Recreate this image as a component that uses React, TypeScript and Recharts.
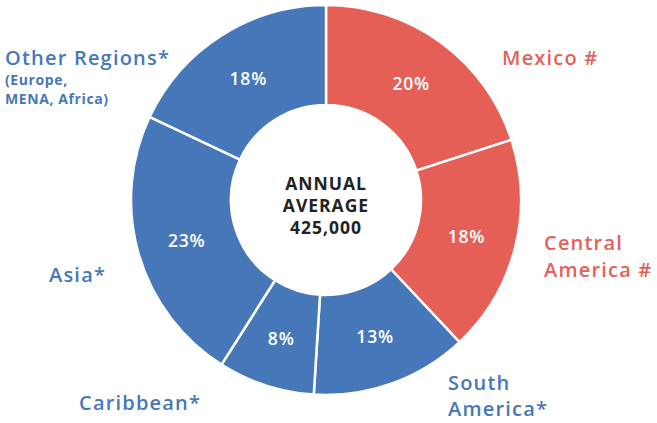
import { PieChart, Pie, Cell } from 'recharts'

const regions = ['Mexico #', 'Central America #', 'South America*', 'Caribbean*', 'Asia*', 'Other Regions*']
const shares = [20, 18, 13, 8, 23, 18]
const groups = ['red', 'red', 'blue', 'blue', 'blue', 'blue']

const RED = '#E65F57'
const BLUE = '#4677B8'
const FONT = '"Open Sans", sans-serif'

const data = regions.map((name, i) => ({ name, value: shares[i], group: groups[i] }))

const RAD = Math.PI / 180

const renderPct = ({ cx, cy, midAngle, innerRadius, outerRadius, value }: any) => {
  const r = (innerRadius + outerRadius) / 2
  const x = cx + r * Math.cos(-midAngle * RAD)
  const y = cy + r * Math.sin(-midAngle * RAD)
  return (
    <text x={x} y={y} fill="#fff" textAnchor="middle" dominantBaseline="central"
      style={{ fontFamily: FONT, fontSize: 17.5, fontWeight: 600, letterSpacing: 0.8 }}>
      {value}%
    </text>
  )
}

const lbl = (color: string, size = 20): React.CSSProperties => ({
  position: 'absolute', color, fontFamily: FONT, fontSize: size, fontWeight: 600, lineHeight: 1.3,
  letterSpacing: 1.2, whiteSpace: 'nowrap',
})

export default function App() {
  return (
    <div style={{ position: 'absolute', left: 0, top: 0, width: 657, height: 423, background: '#fff' }}>
      <PieChart width={657} height={423} margin={{ top: 0, right: 0, bottom: 0, left: 0 }}>
        <Pie data={data} dataKey="value" cx={326} cy={200} innerRadius={95} outerRadius={195}
          startAngle={90} endAngle={-270} stroke="#fff" strokeWidth={2.5}
          label={renderPct} labelLine={false} isAnimationActive={false}>
          {data.map(d => <Cell key={d.name} fill={d.group === 'red' ? RED : BLUE} />)}
        </Pie>
      </PieChart>

      <div style={{ position: 'absolute', left: 226, width: 200, top: 172, textAlign: 'center', fontFamily: FONT, fontWeight: 700, fontSize: 17.5, lineHeight: '22px', color: '#222', letterSpacing: 1 }}>
        ANNUAL<br />AVERAGE<br />425,000
      </div>

      <div style={{ ...lbl(RED), left: 502, top: 45 }}>Mexico #</div>
      <div style={{ ...lbl(RED), left: 544, top: 229, lineHeight: '27px' }}>Central<br />America #</div>
      <div style={{ ...lbl(BLUE), left: 448, top: 370, lineHeight: '26px' }}>South<br />America*</div>
      <div style={{ ...lbl(BLUE), left: 79, top: 390 }}>Caribbean*</div>
      <div style={{ ...lbl(BLUE), left: 49, top: 262 }}>Asia*</div>
      <div style={{ ...lbl(BLUE), left: 5, top: 45 }}>Other Regions*</div>
      <div style={{ ...lbl(BLUE, 14), left: 5, top: 70, lineHeight: '19px', fontWeight: 700, letterSpacing: 0.6 }}>(Europe,<br />MENA, Africa)</div>
    </div>
  )
}
